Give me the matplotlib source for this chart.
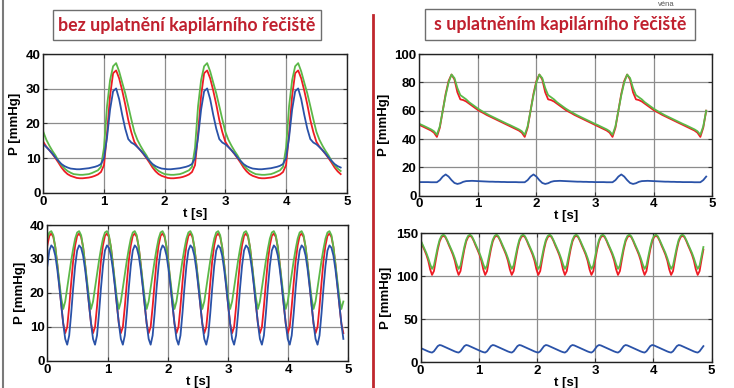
import numpy as np
import matplotlib.pyplot as plt
from matplotlib.patches import Rectangle

# Jeden srdeční cyklus každé křivky (mmHg).
# Simulace jsou periodické, takže cyklus se jen opakuje.

# vlevo nahoře: krok 0.05 s, cyklus začíná vzestupem (t = 1.0 s)
tl_red = [8, 17, 28, 34.5, 35.3, 33, 29.5, 25.5, 21, 17.5, 14.7, 13.3, 12.3, 11.2, 10,
          8.7, 7.3, 6.2, 5.4, 4.9, 4.6, 4.3, 4.2, 4.2, 4.3, 4.4, 4.6, 4.9, 5.3, 6.0]
tl_green = [13, 25, 32.5, 36.5, 37.4, 35, 31.8, 28.7, 25, 21.2, 17.6, 15.3, 13.6, 12.1, 10.8,
            9.2, 8.0, 7.0, 6.3, 5.8, 5.4, 5.3, 5.2, 5.2, 5.3, 5.4, 5.7, 6.1, 6.5, 7.5]
tl_blue = [10, 16, 24, 29.3, 30.1, 27, 22.5, 18.5, 15.5, 14.5, 14, 13.2, 12.3, 11.3, 10.2,
           9.2, 8.3, 7.7, 7.3, 7.0, 6.9, 6.8, 6.8, 6.9, 7.0, 7.1, 7.3, 7.5, 7.8, 8.3]

# vpravo nahoře: krok 0.05 s, cyklus začíná minimem (t = 0.3 s)
tr_red = [41.5, 48, 60, 72, 81, 85.5, 82, 73, 68, 67.5, 66.5, 65, 63.5, 62, 60.5,
          59.3, 58.2, 57, 56, 55, 54, 53, 52, 51, 50, 49, 48, 47, 46, 44.5]
tr_green = [43, 49, 60, 71, 80, 85.5, 83, 76, 71, 69.5, 68, 66, 64.5, 63, 61.5,
            60.2, 59, 57.8, 56.7, 55.7, 54.7, 53.7, 52.7, 51.7, 50.7, 49.8, 48.8, 47.8, 46.8, 45.5]
tr_blue = [9.5, 11, 13.5, 15, 13.5, 11, 9, 8.3, 8.8, 9.8, 10.3, 10.4, 10.5, 10.4, 10.3,
           10.2, 10.1, 10.0, 9.9, 9.9, 9.8, 9.8, 9.7, 9.7, 9.6, 9.6, 9.6, 9.6, 9.5, 9.5]

# vlevo dole: krok 0.033 s, cyklus začíná vrcholem zelené
bl_red = [37.5, 36.5, 33.5, 28.5, 22.5, 16.5, 11, 8.2, 10, 16, 23, 29.5, 34, 36.8]
bl_green = [38.2, 37, 33.5, 28.5, 23.5, 18.5, 15.3, 17.5, 21.5, 25.5, 29.5, 33, 36, 37.8]
bl_blue = [34.0, 33.3, 31, 27, 22, 16.5, 11, 6.5, 4.8, 7.5, 14, 21.5, 28, 32.5]

# vpravo dole: krok 0.0326 s, cyklus začíná minimem zelené
br_red = [101.5, 106, 119, 131, 140.5, 145.5, 147.3, 145.5, 141, 135.5, 130.5, 125, 118, 108]
br_green = [108.5, 112.5, 123, 134, 142.5, 147, 148.5, 146.5, 142, 137, 132, 127, 121, 114]
br_blue = [11, 12.5, 15.5, 18.5, 19.8, 19.3, 18.3, 17.3, 16.3, 15.3, 14.3, 13.3, 12.3, 11.5]

# (krok, první vzorek cyklu v t = 0, počet vzorků)
tl_samp = (0.05, 10, 99)
tr_samp = (0.05, 24, 99)
bl_samp = (0.033, 12, 150)
br_samp = (0.0326, 8, 150)

x_ticks = [0, 1, 2, 3, 4, 5]

RED = '#ee1c24'
GREEN = '#5cb848'
BLUE = '#2a52a8'
TITLE_RED = '#c0202e'

plt.rcParams['font.family'] = ['Liberation Sans', 'DejaVu Sans']


def beats(cycle, samp):
    dt, start, count = samp
    vals = np.tile(cycle, count // len(cycle) + 2)[start:start + count]
    return np.arange(count) * dt, vals


def panel(ax, curves, samp, yticks):
    for cyc, col in curves:
        t, p = beats(cyc, samp)
        ax.plot(t, p, color=col, lw=1.3)
    ax.set_xlim(0, 5)
    ax.set_ylim(yticks[0], yticks[-1])
    ax.set_xticks(x_ticks)
    ax.set_yticks(yticks)
    ax.grid(True, color='#8c8c8c', lw=0.9)
    ax.set_axisbelow(True)
    ax.tick_params(direction='in', top=True, right=True, length=3, width=0.8,
                   labelsize=9.5, pad=2, color='#333333')
    for lab in ax.get_xticklabels() + ax.get_yticklabels():
        lab.set_fontweight('bold')
    for s in ax.spines.values():
        s.set_color('#222222')
        s.set_linewidth(1.0)
    ax.set_xlabel('t [s]', fontsize=9.5, fontweight='bold', labelpad=0)
    ax.set_ylabel('P [mmHg]', fontsize=9.5, fontweight='bold', labelpad=3)


fig = plt.figure(figsize=(7.34, 3.88), dpi=100)

ax1 = fig.add_axes([0.059, 0.503, 0.4134, 0.3575])
panel(ax1, [(tl_red, RED), (tl_green, GREEN), (tl_blue, BLUE)], tl_samp, [0, 10, 20, 30, 40])

ax2 = fig.add_axes([0.5713, 0.4956, 0.3988, 0.3652])
panel(ax2, [(tr_red, RED), (tr_green, GREEN), (tr_blue, BLUE)], tr_samp, [0, 20, 40, 60, 80, 100])

ax3 = fig.add_axes([0.0645, 0.0696, 0.4101, 0.3505])
panel(ax3, [(bl_red, RED), (bl_green, GREEN), (bl_blue, BLUE)], bl_samp, [0, 10, 20, 30, 40])

ax4 = fig.add_axes([0.5731, 0.0670, 0.3965, 0.3317])
panel(ax4, [(br_red, RED), (br_green, GREEN), (br_blue, BLUE)], br_samp, [0, 50, 100, 150])

# nadpisy v rámečcích
W, H = 734.0, 388.0
for (x0, x1, y0, y1), txt in [((53, 321, 10, 40), 'bez uplatnění kapilárního řečiště'),
                              ((425, 695, 9, 40), 's uplatněním kapilárního řečiště')]:
    fig.add_artist(Rectangle((x0 / W, 1 - y1 / H), (x1 - x0) / W, (y1 - y0) / H,
                             transform=fig.transFigure, fill=False,
                             edgecolor='#6e6e6e', lw=1.0))
    fig.text((x0 + x1) / 2 / W, 1 - (y0 + y1) / 2 / H, txt, ha='center', va='center',
             color=TITLE_RED, fontsize=12.8, fontweight='bold', family=['Lato', 'DejaVu Sans'])

# dělicí čáry
fig.add_artist(plt.Line2D([2.5 / W, 2.5 / W], [0, 1], transform=fig.transFigure,
                          color='#7a7a7a', lw=1.5))
fig.add_artist(plt.Line2D([373 / W, 373 / W], [0, 1 - 15 / H], transform=fig.transFigure,
                          color='#c0272d', lw=2.0))

# drobný text u horního okraje
fig.text(666 / W, 1 - 1 / H, 'véna', ha='center', va='top', fontsize=5.5, color='#555555')

fig.savefig('out.png', dpi=100)
